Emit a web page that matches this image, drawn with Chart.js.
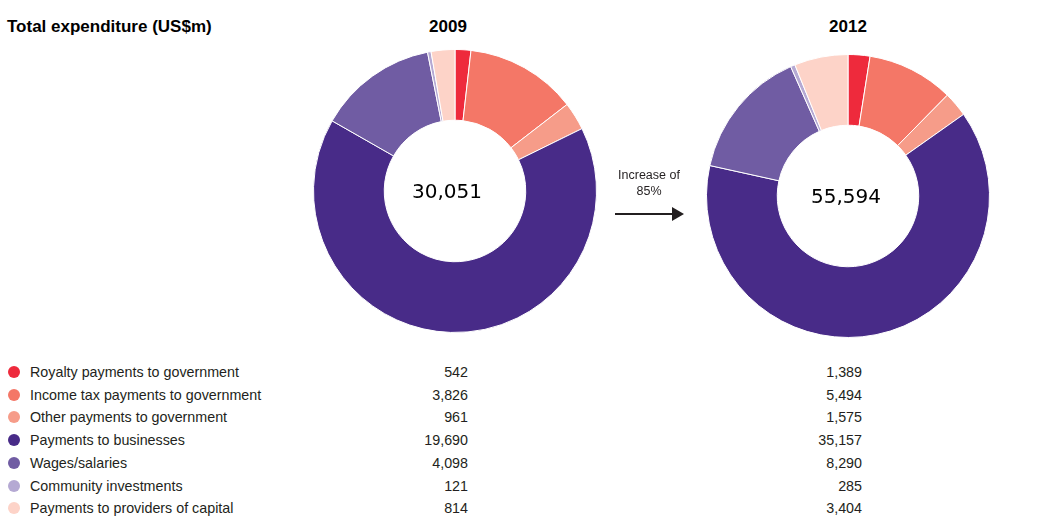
<!DOCTYPE html>
<html lang="en">
<head>
  <meta charset="UTF-8" />
  <title>Total expenditure</title>
  <script src="https://cdn.jsdelivr.net/npm/chart.js"></script>
  <style>
    body {
      margin: 0;
      width: 1056px;
      height: 531px;
      background: #fff;
      font-family: 'Liberation Sans', Arial, sans-serif;
      color: #231f20;
      position: relative;
      overflow: hidden;
    }
    .abs { position: absolute; }
    .title { left: 7px; top: 17px; font-weight: bold; font-size: 17px; color: #000; }
    .year { top: 17px; font-weight: bold; font-size: 17px; color: #000; width: 100px; text-align: center; }
    .donut { width: 284px; height: 284px; }
    .total { font-family: 'DejaVu Sans', Verdana, sans-serif; font-size: 20px; color: #000; width: 160px; text-align: center; }
    .note { left: 599px; top: 167px; width: 100px; text-align: center; font-size: 12.5px; line-height: 16px; color: #231f20; }
    .arrow { left: 615px; top: 213px; width: 60px; height: 2px; background: #231f20; }
    .head { left: 672px; top: 207px; width: 0; height: 0; border-top: 7px solid transparent; border-bottom: 7px solid transparent; border-left: 12px solid #231f20; }
    .row { left: 0; width: 900px; height: 20px; font-size: 14.3px; line-height: 20px; }
    .dot { position: absolute; left: 8px; top: 4px; width: 12px; height: 12px; border-radius: 50%; }
    .lab { position: absolute; left: 30px; }
    .v1 { position: absolute; right: calc(900px - 468px); }
    .v2 { position: absolute; right: calc(900px - 862px); }
  </style>
</head>
<body>
  <div class="abs title">Total expenditure (US$m)</div>
  <div class="abs year" style="left:398px">2009</div>
  <div class="abs year" style="left:798px">2012</div>

  <div class="abs donut" style="left:313px; top:49px"><canvas id="chart2009"></canvas></div>
  <div class="abs donut" style="left:706px; top:54px"><canvas id="chart2012"></canvas></div>

  <div class="abs total" id="tot2009" style="left:367px; top:179px"></div>
  <div class="abs total" id="tot2012" style="left:766px; top:184px"></div>

  <div class="abs note">Increase of<br>85%</div>
  <div class="abs arrow"></div>
  <div class="abs head"></div>

  <div id="table"></div>

  <script>
    const categories = [
      'Royalty payments to government',
      'Income tax payments to government',
      'Other payments to government',
      'Payments to businesses',
      'Wages/salaries',
      'Community investments',
      'Payments to providers of capital'
    ];
    const values2009 = [542, 3826, 961, 19690, 4098, 121, 814];
    const values2012 = [1389, 5494, 1575, 35157, 8290, 285, 3404];
    const totals = [30051, 55594];
    const colours = ['#ee2a3c', '#f47767', '#f69c89', '#482b88', '#705ca3', '#b5a9d3', '#fdd3c8'];

    function fmt(n) { return n.toLocaleString('en-US'); }

    function criaDonut(id, dados) {
      new Chart(document.getElementById(id).getContext('2d'), {
        type: 'doughnut',
        data: {
          labels: categories,
          datasets: [{
            data: dados,
            backgroundColor: colours,
            borderColor: '#fff',
            borderWidth: 1
          }]
        },
        options: {
          responsive: true,
          maintainAspectRatio: false,
          animation: false,
          cutout: '50%',
          rotation: 0,
          layout: { padding: 0 },
          plugins: {
            legend: { display: false },
            tooltip: { enabled: false }
          }
        }
      });
    }

    criaDonut('chart2009', values2009);
    criaDonut('chart2012', values2012);

    document.getElementById('tot2009').textContent = fmt(totals[0]);
    document.getElementById('tot2012').textContent = fmt(totals[1]);

    // legend table with the values
    const table = document.getElementById('table');
    categories.forEach((c, i) => {
      const row = document.createElement('div');
      row.className = 'abs row';
      row.style.top = (362 + i * 22.7) + 'px';
      row.innerHTML = '<span class="dot" style="background:' + colours[i] + '"></span>' +
        '<span class="lab">' + c + '</span>' +
        '<span class="v1">' + fmt(values2009[i]) + '</span>' +
        '<span class="v2">' + fmt(values2012[i]) + '</span>';
      table.appendChild(row);
    });
  </script>
</body>
</html>
